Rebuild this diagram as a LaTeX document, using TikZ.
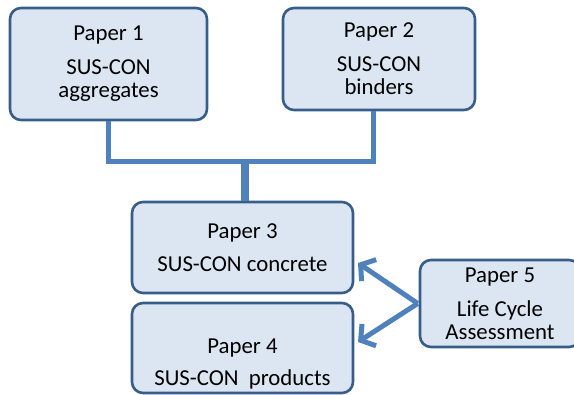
\documentclass[tikz,border=0pt]{standalone}
\usepackage{fontspec}
\setmainfont{Carlito}
\usepackage{xcolor}
\usetikzlibrary{arrows.meta,positioning,calc}

\definecolor{boxfill}{RGB}{220,230,242}
\definecolor{boxline}{RGB}{56,93,138}
\definecolor{linkblue}{RGB}{79,129,189}

\begin{document}
\begin{tikzpicture}[x=1pt,y=-1pt,
  paper/.style={draw=boxline,fill=boxfill,line width=2.6pt,rounded corners=11pt,
    align=center,font=\fontsize{22.8}{23}\selectfont,inner sep=0pt},
  link/.style={draw=linkblue,line width=5pt},
  feed/.style={draw=linkblue,line width=5pt,-{Straight Barb[length=10pt,width=26pt]}}]
  \useasboundingbox (0,0) rectangle (574,395);

  \node[paper,minimum width=197pt,minimum height=112pt] (p1) at (108.5,64) {Paper 1\\[11pt]SUS-CON\\aggregates};
  \node[paper,minimum width=192pt,minimum height=102pt] (p2) at (379,59) {Paper 2\\[11pt]SUS-CON\\binders};
  \node[paper,minimum width=221pt,minimum height=91pt] (p3) at (242.5,247.5) {Paper 3\\[10pt]SUS-CON concrete};
  \node[paper,minimum width=221pt,minimum height=90pt] (p4) at (242.5,348) {};
  \node[align=center,font=\fontsize{22.8}{23}\selectfont,inner sep=0pt] (t4) at (242.5,364) {Paper 4\\[9pt]SUS-CON\ \ products};
  \node[paper,minimum width=160pt,minimum height=87pt] (p5) at (500,303.5) {Paper 5\\[11pt]Life Cycle\\Assessment};

  % papers 1 and 2 feed paper 3
  \coordinate (j) at (245,162);
  \draw[link] (p1.south) |- (j) -| ([xshift=-6pt]p2.south);
  \draw[draw=linkblue,line width=8pt] (j) -- (j |- p3.north);

  % life cycle assessment
  \coordinate (a3) at (358,263);
  \coordinate (a4) at (358,342);
  \draw[feed] ([xshift=-1pt]p5.west) -- (a3);
  \draw[feed] ([xshift=-1pt]p5.west) -- (a4);
\end{tikzpicture}
\end{document}
